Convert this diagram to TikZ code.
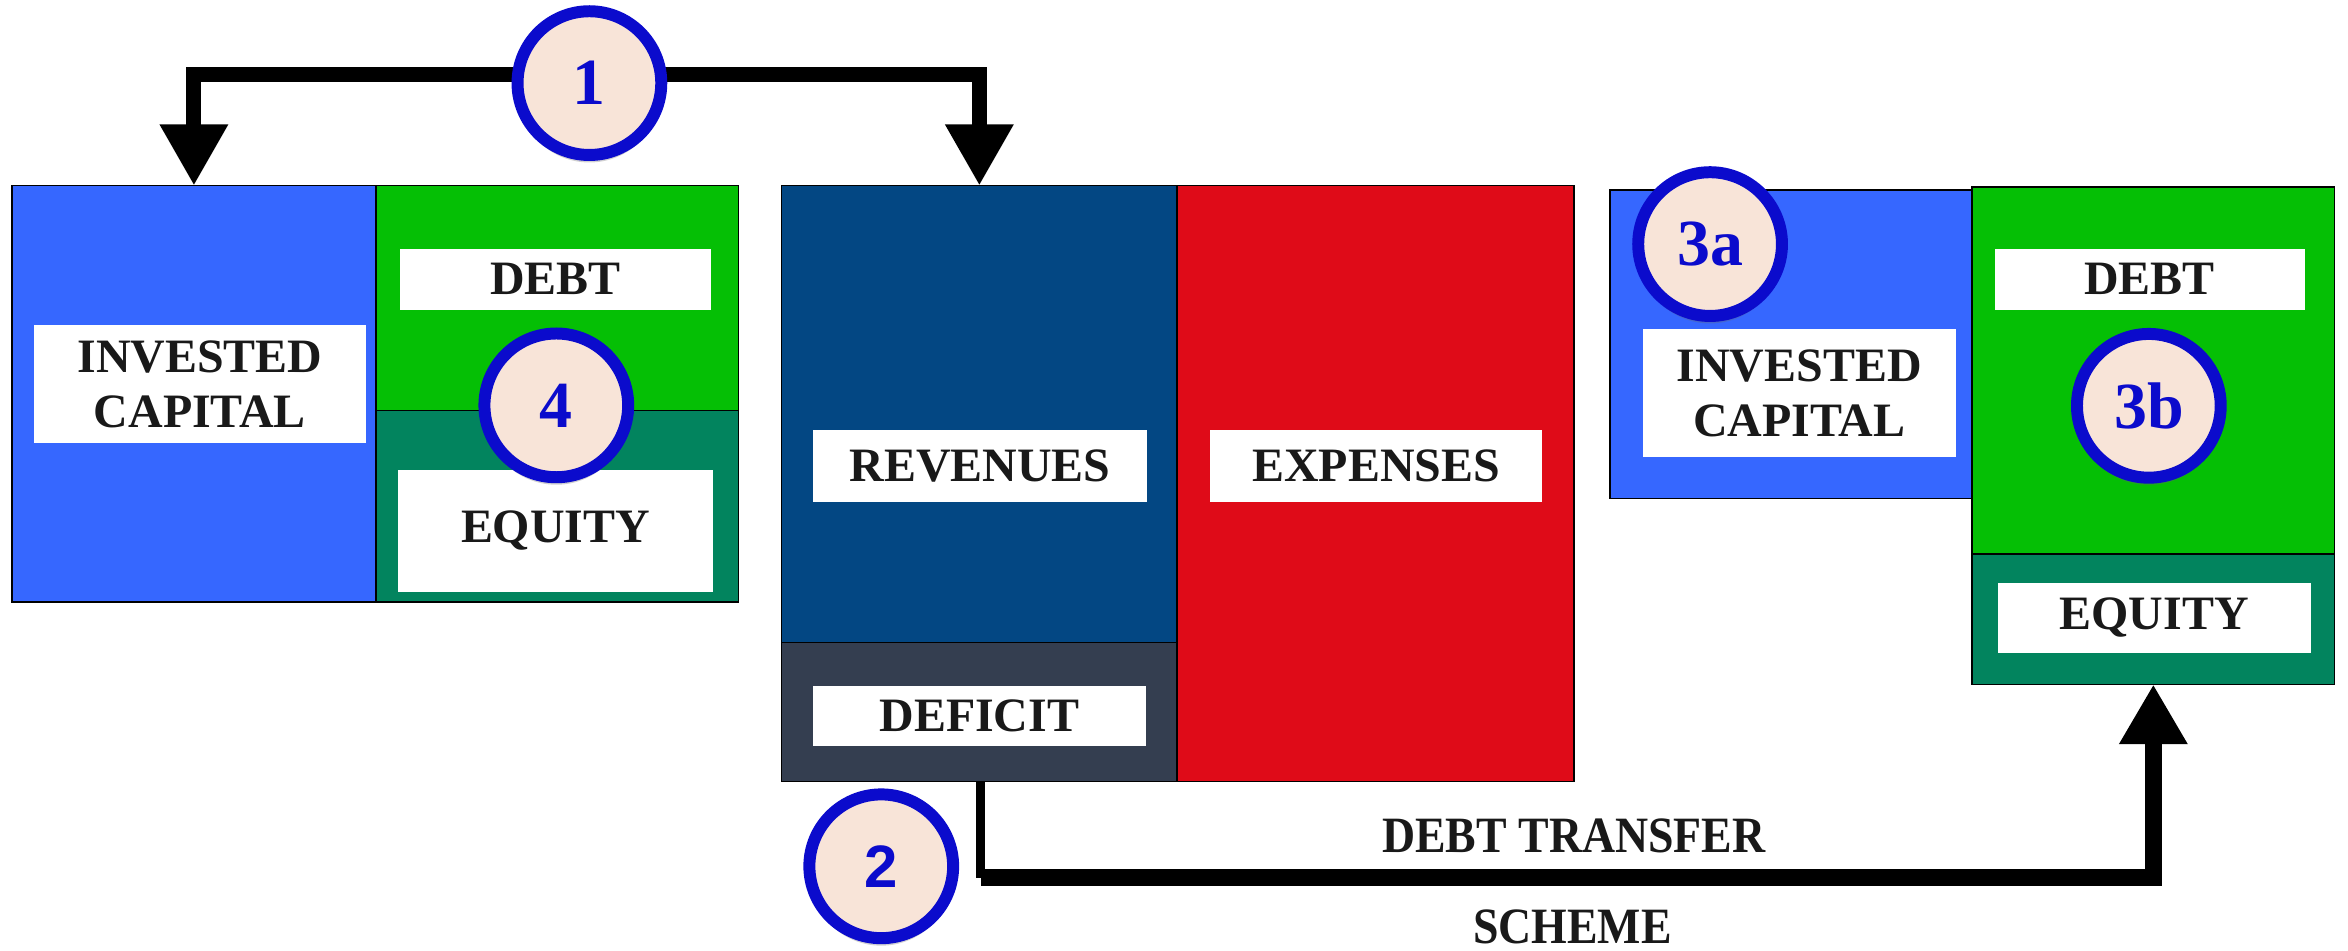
\documentclass[tikz,border=0pt]{standalone}
\usepackage{fontspec}
\setmainfont{Liberation Serif}
\setsansfont{Liberation Sans}
\newfontfamily\narrowserif[FakeStretch=0.9]{Liberation Serif}
\usetikzlibrary{arrows.meta,shadows}

\definecolor{capblue}{HTML}{3667FF}
\definecolor{debtgreen}{HTML}{05BF05}
\definecolor{eqteal}{HTML}{02845E}
\definecolor{revnavy}{HTML}{034783}
\definecolor{defslate}{HTML}{343E50}
\definecolor{expred}{HTML}{DF0B18}
\definecolor{numfill}{HTML}{F8E4D8}
\definecolor{numblue}{HTML}{0B0BCC}

\tikzset{
  blk/.style={draw=black, line width=1pt, anchor=north west, inner sep=0pt, outer sep=0pt},
  lbl/.style={fill=white, inner sep=0pt, align=center, text=black!90,
              font=\fontsize{32}{37}\selectfont\bfseries},
  numc/.style={circle, draw=numblue, fill=numfill, line width=8pt, minimum size=96pt,
               inner sep=0pt, text=numblue, font=\fontsize{44}{44}\selectfont\bfseries,
               drop shadow={shadow xshift=0pt, shadow yshift=-5pt, opacity=.3, fill=black!60}},
  bigarrow/.style={line width=10pt, -{Triangle[length=41pt,width=43pt]}},
}

\begin{document}
\begin{tikzpicture}[x=1pt,y=-1pt]

\useasboundingbox (0,0) rectangle (1568,635);

	%%% left balance sheet
    \node[blk, fill=capblue, minimum width=243pt, minimum height=278pt] (icA) at (8,124) {};
    \node[blk, fill=debtgreen, minimum width=242pt, minimum height=150pt] (debtA) at (251,124) {};
    \node[blk, fill=eqteal, minimum width=242pt, minimum height=128pt] (eqA) at (251,274) {};

	%%% revenues / expenses
    \node[blk, fill=revnavy, minimum width=264pt, minimum height=305pt] (rev) at (522,124) {};
    \node[blk, fill=defslate, minimum width=264pt, minimum height=93pt] (def) at (522,429) {};
    \node[blk, fill=expred, minimum width=265pt, minimum height=398pt] (exp) at (786,124) {};

	%%% right balance sheet
    \node[blk, fill=capblue, minimum width=242pt, minimum height=206pt] (icB) at (1075,127) {};
    \node[blk, fill=debtgreen, minimum width=242pt, minimum height=245pt] (debtB) at (1317,125) {};
    \node[blk, fill=eqteal, minimum width=242pt, minimum height=87pt] (eqB) at (1317,370) {};

% labels

    \node[lbl, minimum width=222pt, minimum height=79pt] (icAl) at (133.5,256.5) {INVESTED\\CAPITAL};
    \node[lbl, minimum width=208pt, minimum height=41pt] (debtAl) at (371,186.5) {DEBT};
    \node[lbl, minimum width=210pt, minimum height=81pt] (eqAl) at (371,354.5) {EQUITY};

    \node[lbl, minimum width=223pt, minimum height=48pt] (revl) at (654.5,311) {REVENUES};
    \node[lbl, minimum width=222pt, minimum height=48pt] (expl) at (919,311) {EXPENSES};
    \node[lbl, minimum width=222pt, minimum height=40pt] (defl) at (654,478) {DEFICIT};

    \node[lbl, minimum width=209pt, minimum height=85pt] (icBl) at (1201.5,262.5) {INVESTED\\CAPITAL};
    \node[lbl, minimum width=207pt, minimum height=41pt] (debtBl) at (1435.5,186.5) {DEBT};
    \node[lbl, minimum width=209pt, minimum height=47pt] (eqBl) at (1438.5,412.5) {EQUITY};

% arrows

    \coordinate (T1) at (393,49.5);
    \draw[bigarrow] (T1) -| (icA.north);
    \draw[bigarrow] (T1) -| (rev.north);

    \coordinate (B2) at (655,586);
    \draw[line width=6pt] (def.south -| B2) -- (B2);
    \draw[line width=11pt, -{Triangle[length=40pt,width=43pt]}] (B2) -| (eqB.south);

    \node[font=\narrowserif\fontsize{34}{34}\selectfont\bfseries, text=black!90] (dts) at (1051,558) {DEBT TRANSFER};
    \node[font=\narrowserif\fontsize{34}{34}\selectfont\bfseries, text=black!90] (sch) at (1050,619) {SCHEME};

% circles

    \node[numc] (c1) at (393.6,55.5) {1};
    \node[numc] (c4) at (371.5,270.7) {4};
    \node[numc] (c3a) at (1142,163) {3a};
    \node[numc] (c3b) at (1435,271) {3b};
    \node[numc, font=\sffamily\fontsize{40}{40}\selectfont\bfseries] (c2) at (588.5,578.5) {2};

\end{tikzpicture}
\end{document}
